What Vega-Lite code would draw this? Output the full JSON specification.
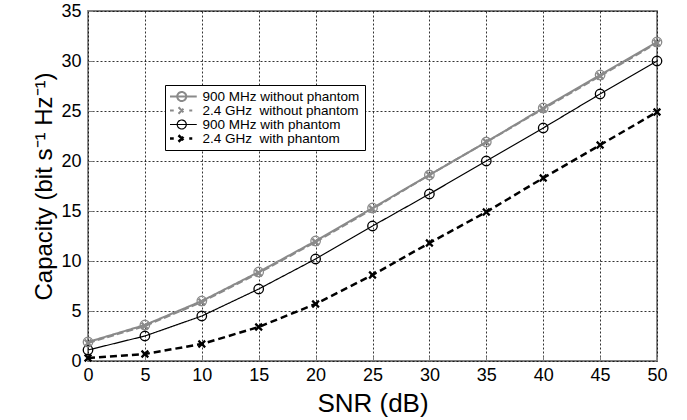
{
  "$schema": "https://vega.github.io/schema/vega-lite/v6.json",
  "autosize": {"type": "none"},
  "width": 569,
  "height": 350,
  "padding": {"left": 88, "top": 11, "right": 30, "bottom": 59},
  "background": "white",
  "config": {
    "view": {"stroke": "#808080", "strokeWidth": 1.8},
    "font": "Liberation Sans",
    "axis": {
      "labelFont": "Liberation Sans",
      "titleFont": "Liberation Sans",
      "labelFontSize": 18,
      "titleFontSize": 24,
      "titleFontWeight": "normal",
      "labelColor": "black",
      "titleColor": "black",
      "domain": false,
      "grid": true,
      "gridColor": "#000000",
      "gridDash": [2, 2],
      "gridWidth": 1,
      "gridOpacity": 0.8,
      "tickColor": "#808080",
      "tickSize": -5
    }
  },
  "data": {
    "values": [
      {"snr": 0, "series": "900 MHz without phantom", "cap": 1.9},
      {"snr": 5, "series": "900 MHz without phantom", "cap": 3.6},
      {"snr": 10, "series": "900 MHz without phantom", "cap": 6.0},
      {"snr": 15, "series": "900 MHz without phantom", "cap": 8.9},
      {"snr": 20, "series": "900 MHz without phantom", "cap": 12.0},
      {"snr": 25, "series": "900 MHz without phantom", "cap": 15.3},
      {"snr": 30, "series": "900 MHz without phantom", "cap": 18.6},
      {"snr": 35, "series": "900 MHz without phantom", "cap": 21.9},
      {"snr": 40, "series": "900 MHz without phantom", "cap": 25.3},
      {"snr": 45, "series": "900 MHz without phantom", "cap": 28.6},
      {"snr": 50, "series": "900 MHz without phantom", "cap": 31.9},
      {"snr": 0, "series": "2.4 GHz without phantom", "cap": 1.8},
      {"snr": 5, "series": "2.4 GHz without phantom", "cap": 3.5},
      {"snr": 10, "series": "2.4 GHz without phantom", "cap": 5.9},
      {"snr": 15, "series": "2.4 GHz without phantom", "cap": 8.8},
      {"snr": 20, "series": "2.4 GHz without phantom", "cap": 11.9},
      {"snr": 25, "series": "2.4 GHz without phantom", "cap": 15.2},
      {"snr": 30, "series": "2.4 GHz without phantom", "cap": 18.6},
      {"snr": 35, "series": "2.4 GHz without phantom", "cap": 21.9},
      {"snr": 40, "series": "2.4 GHz without phantom", "cap": 25.2},
      {"snr": 45, "series": "2.4 GHz without phantom", "cap": 28.5},
      {"snr": 50, "series": "2.4 GHz without phantom", "cap": 31.8},
      {"snr": 0, "series": "900 MHz with phantom", "cap": 1.1},
      {"snr": 5, "series": "900 MHz with phantom", "cap": 2.5},
      {"snr": 10, "series": "900 MHz with phantom", "cap": 4.5},
      {"snr": 15, "series": "900 MHz with phantom", "cap": 7.2},
      {"snr": 20, "series": "900 MHz with phantom", "cap": 10.2},
      {"snr": 25, "series": "900 MHz with phantom", "cap": 13.5},
      {"snr": 30, "series": "900 MHz with phantom", "cap": 16.7},
      {"snr": 35, "series": "900 MHz with phantom", "cap": 20.0},
      {"snr": 40, "series": "900 MHz with phantom", "cap": 23.3},
      {"snr": 45, "series": "900 MHz with phantom", "cap": 26.7},
      {"snr": 50, "series": "900 MHz with phantom", "cap": 30.0},
      {"snr": 0, "series": "2.4 GHz with phantom", "cap": 0.3},
      {"snr": 5, "series": "2.4 GHz with phantom", "cap": 0.7},
      {"snr": 10, "series": "2.4 GHz with phantom", "cap": 1.7},
      {"snr": 15, "series": "2.4 GHz with phantom", "cap": 3.4},
      {"snr": 20, "series": "2.4 GHz with phantom", "cap": 5.7},
      {"snr": 25, "series": "2.4 GHz with phantom", "cap": 8.6},
      {"snr": 30, "series": "2.4 GHz with phantom", "cap": 11.8},
      {"snr": 35, "series": "2.4 GHz with phantom", "cap": 14.9},
      {"snr": 40, "series": "2.4 GHz with phantom", "cap": 18.3},
      {"snr": 45, "series": "2.4 GHz with phantom", "cap": 21.6},
      {"snr": 50, "series": "2.4 GHz with phantom", "cap": 24.9}
    ]
  },
  "encoding": {
    "x": {
      "field": "snr", "type": "quantitative",
      "scale": {"domain": [0, 50], "nice": false, "zero": false},
      "axis": {"values": [0, 5, 10, 15, 20, 25, 30, 35, 40, 45, 50], "title": "SNR (dB)", "titleFontSize": 26, "labelPadding": 10, "titlePadding": 6, "labelFlush": false}
    },
    "y": {
      "field": "cap", "type": "quantitative",
      "scale": {"domain": [0, 35], "nice": false},
      "axis": {"values": [0, 5, 10, 15, 20, 25, 30, 35], "title": "Capacity (bit s⁻¹ Hz⁻¹)", "labelPadding": 12, "titlePadding": 4, "labelFlush": false}
    },
    "color": {
      "field": "series", "type": "nominal",
      "scale": {
        "domain": ["900 MHz without phantom", "2.4 GHz without phantom", "900 MHz with phantom", "2.4 GHz with phantom"],
        "range": ["#8a8a8a", "#8a8a8a", "#000000", "#000000"]
      },
      "legend": null
    }
  },
  "layer": [
    {
      "mark": {"type": "line"},
      "encoding": {
        "strokeDash": {
          "field": "series", "type": "nominal",
          "scale": {
            "domain": ["900 MHz without phantom", "2.4 GHz without phantom", "900 MHz with phantom", "2.4 GHz with phantom"],
            "range": [[1, 0], [7, 3], [1, 0], [7, 4]]
          },
          "legend": null
        },
        "strokeWidth": {
          "field": "series", "type": "nominal",
          "scale": {
            "type": "ordinal",
            "domain": ["900 MHz without phantom", "2.4 GHz without phantom", "900 MHz with phantom", "2.4 GHz with phantom"],
            "range": [2, 2, 1.2, 2.5]
          },
          "legend": null
        },
        "color": {
          "field": "series", "type": "nominal",
          "scale": {
            "domain": ["900 MHz without phantom", "2.4 GHz without phantom", "900 MHz with phantom", "2.4 GHz with phantom"],
            "range": ["#8a8a8a", "#8a8a8a", "#000000", "#000000"]
          },
          "legend": {
            "title": null,
            "orient": "none",
            "legendX": 77,
            "legendY": 74,
            "direction": "vertical",
            "padding": 5,
            "strokeColor": "#000000",
            "fillColor": "white",
            "cornerRadius": 0,
            "symbolSize": 100,
            "symbolOffset": 5,
            "labelOffset": 14,
            "rowPadding": 0,
            "clipHeight": 13,
            "labelLimit": 300,
            "labelFont": "Liberation Sans",
            "labelFontSize": 13.5,
            "labelColor": "black",
            "labelExpr": "replace(datum.label, 'GHz ', 'GHz\u00a0 ')",
            "encode": {
              "symbols": {
                "update": {
                  "shape": {"signal": "indexof(datum.value, '900') === 0 ? 'M-3,0H3 M-0.9,0A0.9,0.9 0 1,0 0.9,0A0.9,0.9 0 1,0 -0.9,0' : 'M-3,0H-1.1 M-0.65,-0.65L0.65,0.65 M-0.65,0.65L0.65,-0.65 M1.5,0H2.1'"},
                  "strokeWidth": {"signal": "indexof(datum.value, '900') === 0 ? 1.2 : 2"},
                  "strokeDash": {"value": [1, 0]},
                  "fill": {"value": "transparent"}
                }
              }
            }
          }
        }
      }
    },
    {
      "transform": [{"filter": "indexof(datum.series, '900') === 0"}],
      "mark": {"type": "point", "filled": false, "opacity": 1, "shape": "circle", "size": 90, "strokeWidth": 1.3}
    },
    {
      "transform": [{"filter": "indexof(datum.series, '2.4') === 0"}],
      "mark": {"type": "point", "filled": false, "opacity": 1, "shape": "M-1,-1L1,1M-1,1L1,-1", "size": 45, "strokeWidth": 2.2}
    }
  ]
}
